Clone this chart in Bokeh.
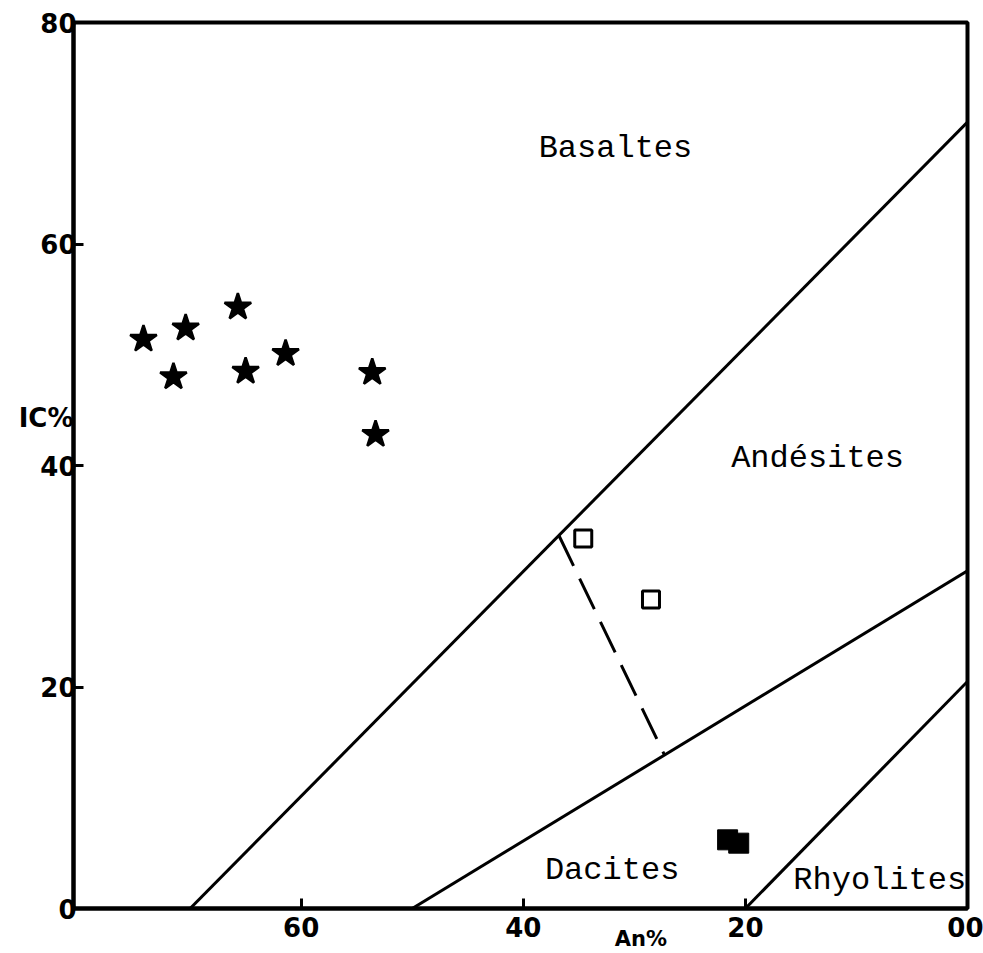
from bokeh.plotting import figure
from bokeh.models import Range1d, FixedTicker, ColumnDataSource, LinearAxis
from bokeh.core.properties import value
from bokeh.embed import file_html
from bokeh.resources import INLINE

# ---- data ----
star_an = [74.2, 70.4, 65.7, 71.5, 65.0, 61.4, 53.6, 53.3]
star_ic = [51.4, 52.4, 54.3, 48.0, 48.5, 50.1, 48.4, 42.8]

open_sq_an = [34.6, 28.5]
open_sq_ic = [33.4, 27.9]

filled_sq_an = [21.6, 20.6]
filled_sq_ic = [6.2, 5.9]

basalt_andesite_an = [70, 0]
basalt_andesite_ic = [0, 71]
andesite_dacite_an = [50, 0]
andesite_dacite_ic = [0, 30.5]
dacite_rhyolite_an = [20, 0]
dacite_rhyolite_ic = [0, 20.5]
dashed_an = [36.8, 27.3]
dashed_ic = [33.7, 13.9]

region_names = ["Basaltes", "Andésites", "Dacites", "Rhyolites"]
region_an = [31.7, 13.5, 32.0, 7.9]
region_ic = [68.6, 40.6, 3.4, 2.5]

x_ticks = [60, 40, 20, 0]
y_ticks = [0, 20, 40, 60, 80]
x_title = "An%"
x_title_pos = 29.4
y_title = "IC%"
y_title_pos = 44.3

# ---- figure ----
p = figure(frame_width=894, frame_height=886,
           x_range=Range1d(80.5, 0), y_range=Range1d(0, 80),
           output_backend="svg", toolbar_location=None,
           min_border_left=73, min_border_top=22, min_border_right=16,
           min_border_bottom=45)
p.background_fill_color = "white"
p.border_fill_color = "white"
p.grid.visible = False
p.outline_line_color = "black"
p.outline_line_width = 4
p.outline_line_alpha = 1

tick_font = "DejaVu Sans"
for ax in (p.xaxis[0], p.yaxis[0]):
    ax.axis_line_width = 4
    ax.axis_line_color = "black"
    ax.major_tick_in = 10
    ax.major_tick_out = 0
    ax.major_tick_line_width = 3
    ax.minor_tick_line_color = None
    ax.major_label_text_font = tick_font
    ax.major_label_text_font_style = "bold"
    ax.major_label_text_font_size = "26px"
    ax.major_label_text_color = "black"

p.xaxis[0].ticker = FixedTicker(ticks=x_ticks)
p.xaxis[0].major_label_overrides = {0: "00"}
p.xaxis[0].major_label_standoff = 8
p.yaxis[0].ticker = FixedTicker(ticks=y_ticks)
p.yaxis[0].major_label_standoff = -3

# axis titles as extra axes (text only)
def title_axis(pos, text, standoff, size):
    ax = LinearAxis(ticker=FixedTicker(ticks=[pos]),
                    major_label_overrides={pos: text})
    ax.axis_line_color = None
    ax.major_tick_line_color = None
    ax.minor_tick_line_color = None
    ax.major_tick_in = 0
    ax.major_tick_out = 0
    ax.major_label_standoff = standoff
    ax.major_label_text_font = tick_font
    ax.major_label_text_font_style = "bold"
    ax.major_label_text_font_size = size
    ax.major_label_text_color = "black"
    return ax

p.add_layout(title_axis(x_title_pos, x_title, -13, "21px"), "below")
p.add_layout(title_axis(y_title_pos, y_title, -36, "26px"), "left")

# boundaries
for xs, ys in ((basalt_andesite_an, basalt_andesite_ic),
               (andesite_dacite_an, andesite_dacite_ic),
               (dacite_rhyolite_an, dacite_rhyolite_ic)):
    p.line(xs, ys, line_color="black", line_width=3)
p.line(dashed_an, dashed_ic, line_color="black", line_width=3, line_dash="34 14")

# points
p.scatter(star_an, star_ic, marker="star", size=28, fill_color="black",
          line_color="black", line_width=2.5)
p.scatter(open_sq_an, open_sq_ic, marker="square", size=17, fill_color="white",
          line_color="black", line_width=3)
p.scatter(filled_sq_an, filled_sq_ic, marker="square", size=20, fill_color="black",
          line_color="black", line_width=1)

# region names
src = ColumnDataSource(dict(x=region_an, y=region_ic, t=region_names))
p.text(x="x", y="y", text="t", source=src, text_font=value("Liberation Mono"),
       text_font_size="32px", text_align="center", text_baseline="middle",
       text_color="black")

open("out.html", "w").write(file_html(p, INLINE))
